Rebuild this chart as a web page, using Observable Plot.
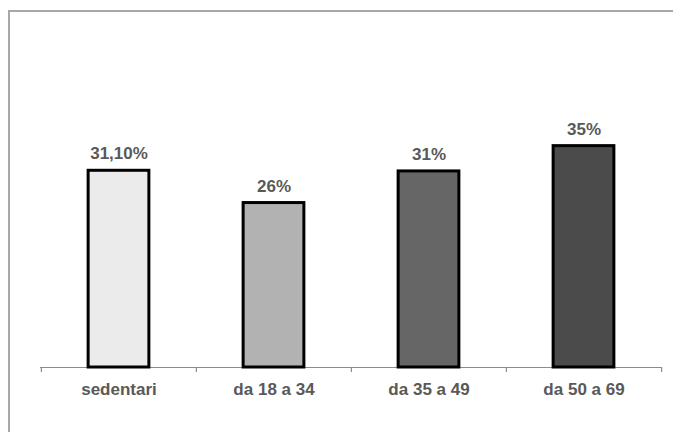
<!DOCTYPE html>
<html>
<head>
<meta charset="utf-8">
<script src="https://cdn.jsdelivr.net/npm/d3@7"></script>
<script src="https://cdn.jsdelivr.net/npm/@observablehq/plot@0.6"></script>
<style>
  html, body { margin: 0; padding: 0; background: #fff; }
  #wrap { position: relative; width: 673px; height: 432px; overflow: hidden; }
  #frame { position: absolute; left: 8px; top: 10px; width: 700px; height: 500px;
           border-top: 2px solid #a8a8a8; border-left: 2px solid #a8a8a8; box-sizing: border-box; }
  #chart { position: absolute; left: 0; top: 0; }
</style>
</head>
<body>
<div id="wrap"><div id="frame"></div><div id="chart"></div></div>
<script>
const categories = ["sedentari", "da 18 a 34", "da 35 a 49", "da 50 a 69"];
const values = [31.1, 26, 31, 35];
const valueLabels = ["31,10%", "26%", "31%", "35%"];
const colors = ["#ebebeb", "#b2b2b2", "#666666", "#4b4b4b"];

const data = categories.map((c, i) => ({cat: c, value: values[i], label: valueLabels[i], color: colors[i]}));

const W = 673, H = 432, mL = 40, mR = 12;
const step = (W - mL - mR) / categories.length;
const barW = 61;
const inset = (step - barW) / 2;

const chart = Plot.plot({
  width: W,
  height: H,
  marginLeft: mL,
  marginRight: mR,
  marginTop: 114,
  marginBottom: 65,
  style: {background: "transparent", fontFamily: "'Liberation Sans', Arial, sans-serif"},
  x: {domain: categories, padding: 0, label: null},
  y: {domain: [0, 40], axis: null},
  color: {type: "identity"},
  marks: [
    Plot.ruleY([0], {stroke: "#8c8c8c", strokeWidth: 1.2}),
    Plot.ruleX(categories, {x: d => d, y1: 0, y2: 0, insetBottom: -5, dx: -step / 2, stroke: "#8c8c8c", strokeWidth: 1.2}),
    Plot.ruleX(categories.slice(-1), {x: d => d, y1: 0, y2: 0, insetBottom: -5, dx: step / 2, stroke: "#8c8c8c", strokeWidth: 1.2}),
    Plot.barY(data, {x: "cat", y: "value", fill: "color", stroke: "#000", strokeWidth: 3, insetLeft: inset, insetRight: inset}),
    Plot.text(data, {x: "cat", y: "value", text: "label", dy: -17, lineAnchor: "middle", fill: "#595959", fontSize: 17, fontWeight: "bold"}),
    Plot.axisX({tickSize: 0, tickPadding: 15, fontSize: 17, fontWeight: "bold", fill: "#595959", label: null})
  ]
});
document.getElementById("chart").appendChild(chart);
</script>
</body>
</html>
